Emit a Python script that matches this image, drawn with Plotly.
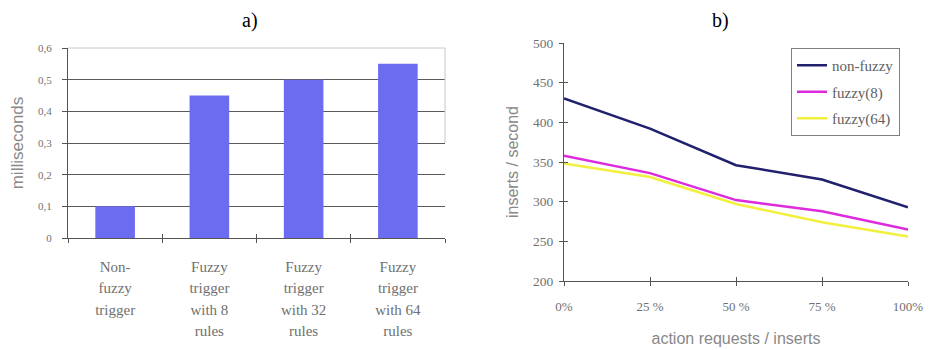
import plotly.graph_objects as go

# ---- data -------------------------------------------------------------
trigger_lines = [
    ["Non-", "fuzzy", "trigger"],
    ["Fuzzy", "trigger", "with 8", "rules"],
    ["Fuzzy", "trigger", "with 32", "rules"],
    ["Fuzzy", "trigger", "with 64", "rules"],
]
exec_time_ms = [0.1, 0.45, 0.5, 0.55]
ms_ticks = [0, 0.1, 0.2, 0.3, 0.4, 0.5, 0.6]
ms_tick_text = ["0", "0,1", "0,2", "0,3", "0,4", "0,5", "0,6"]

action_ratio = [0, 25, 50, 75, 100]
ratio_tick_text = ["0%", "25 %", "50 %", "75 %", "100%"]
non_fuzzy = [430, 392, 346, 328, 293]
fuzzy_8 = [358, 336, 302, 288, 265]
fuzzy_64 = [348, 331, 297, 274, 256]
rate_ticks = [200, 250, 300, 350, 400, 450, 500]

# ---- styling ----------------------------------------------------------
W, H = 930, 350
AXIS = "#555555"
GREY_TEXT = "#707070"
TITLE_FONT = dict(family="Liberation Sans", size=16, color="#888888")


def serif(size, color=GREY_TEXT):
    return dict(family="Liberation Serif", size=size, color=color)


# category labels: glyphs at 15px, lines spaced by the 17px base font
trigger_types = [
    "<br>".join(f'<span style="font-size:15px">{ln}</span>' for ln in lines)
    for lines in trigger_lines
]

left_dom_x = [68 / W, 445 / W]
left_dom_y = [(H - 238) / H, (H - 48) / H]
right_dom_x = [564 / W, 908 / W]
right_dom_y = [(H - 281) / H, (H - 43) / H]

fig = go.Figure()

# a) execution time bars
fig.add_trace(go.Bar(
    x=trigger_types, y=exec_time_ms, xaxis="x", yaxis="y",
    marker=dict(color="#6c6cf0", line=dict(width=0)),
    showlegend=False, hoverinfo="skip",
))

# b) throughput lines
for name, vals, color in [
    ("non-fuzzy", non_fuzzy, "#20206e"),
    ("fuzzy(8)", fuzzy_8, "#dd2add"),
    ("fuzzy(64)", fuzzy_64, "#f2f03c"),
]:
    fig.add_trace(go.Scatter(
        x=action_ratio, y=vals, xaxis="x2", yaxis="y2",
        mode="lines", name=name, legendgroup=name,
        line=dict(color=color, width=2.5),
    ))

# empty traces so the overlay axes (crossing ticks, grid) get rendered
for xa, ya in [("x3", "y3"), ("x4", "y4")]:
    fig.add_trace(go.Scatter(x=[None], y=[None], xaxis=xa, yaxis=ya,
                             showlegend=False, hoverinfo="skip"))

common = dict(showgrid=False, zeroline=False, tickcolor=AXIS, automargin=False)

fig.update_layout(
    width=W, height=H,
    margin=dict(l=0, r=0, t=0, b=0, autoexpand=False),
    paper_bgcolor="white", plot_bgcolor="white",
    bargap=0.58,
    # left panel
    xaxis=dict(
        domain=left_dom_x, anchor="y", type="category", range=[-0.5, 3.5],
        tickson="boundaries", ticks="outside", ticklen=4,
        showline=True, linecolor=AXIS, ticklabelstandoff=13,
        tickfont=serif(16.5), **common,
    ),
    yaxis=dict(
        domain=left_dom_y, anchor="x", range=[0, 0.6],
        tickvals=ms_ticks, ticktext=ms_tick_text,
        ticks="outside", ticklen=5, showline=True, linecolor=AXIS,
        ticklabelstandoff=8, tickfont=serif(11),
        title=dict(text="milliseconds", font=dict(TITLE_FONT, size=17), standoff=10),
        **common,
    ),
    xaxis3=dict(
        overlaying="x", anchor="y3", range=[-0.5, 3.5],
        tickvals=[0.5, 1.5, 2.5, 3.5], ticks="inside", ticklen=4,
        showticklabels=False, showline=False, **common,
    ),
    yaxis3=dict(
        overlaying="y", anchor="x3", range=[0, 0.6],
        tickvals=ms_ticks[1:-1], ticks="", showticklabels=False,
        showline=False, zeroline=False, showgrid=True, gridcolor="#5a5a5a",
        automargin=False,
    ),
    # right panel
    xaxis2=dict(
        domain=right_dom_x, anchor="y2", range=[0, 100],
        tickvals=action_ratio, ticktext=ratio_tick_text,
        ticks="outside", ticklen=4, showline=True, linecolor=AXIS,
        ticklabelstandoff=9, tickfont=serif(13),
        title=dict(text="action requests / inserts", font=TITLE_FONT, standoff=20),
        **common,
    ),
    yaxis2=dict(
        domain=right_dom_y, anchor="x2", range=[200, 500],
        tickvals=rate_ticks, ticks="outside", ticklen=4,
        showline=True, linecolor=AXIS, ticklabelstandoff=3, tickfont=serif(13.5),
        title=dict(text="inserts / second", font=TITLE_FONT, standoff=10),
        **common,
    ),
    xaxis4=dict(
        overlaying="x2", anchor="y4", range=[0, 100],
        tickvals=action_ratio, ticks="inside", ticklen=4,
        showticklabels=False, showline=False, **common,
    ),
    yaxis4=dict(
        overlaying="y2", anchor="x4", range=[200, 500],
        tickvals=rate_ticks, ticks="inside", ticklen=4,
        showticklabels=False, showline=False, **common,
    ),
    legend=dict(
        x=791 / W, y=(H - 48) / H, xanchor="left", yanchor="top",
        bordercolor="#808080", borderwidth=1, bgcolor="white",
        font=serif(15, "#606060"),
        tracegroupgap=4, itemwidth=30,
    ),
    annotations=[
        dict(text="a)", x=250 / W, y=1 - 20 / H, xref="paper", yref="paper",
             xanchor="center", yanchor="middle", showarrow=False,
             font=serif(20, "black")),
        dict(text="b)", x=720 / W, y=1 - 20 / H, xref="paper", yref="paper",
             xanchor="center", yanchor="middle", showarrow=False,
             font=serif(20, "black")),
    ],
    shapes=[
        # light plot-area frame along the top and right of the bar panel
        dict(type="path", xref="x domain", yref="y domain",
             path="M 0 1 L 1 1 L 1 0.5", line=dict(color="#c8c8c8", width=1)),
    ],
)

fig.write_html("out.html")
